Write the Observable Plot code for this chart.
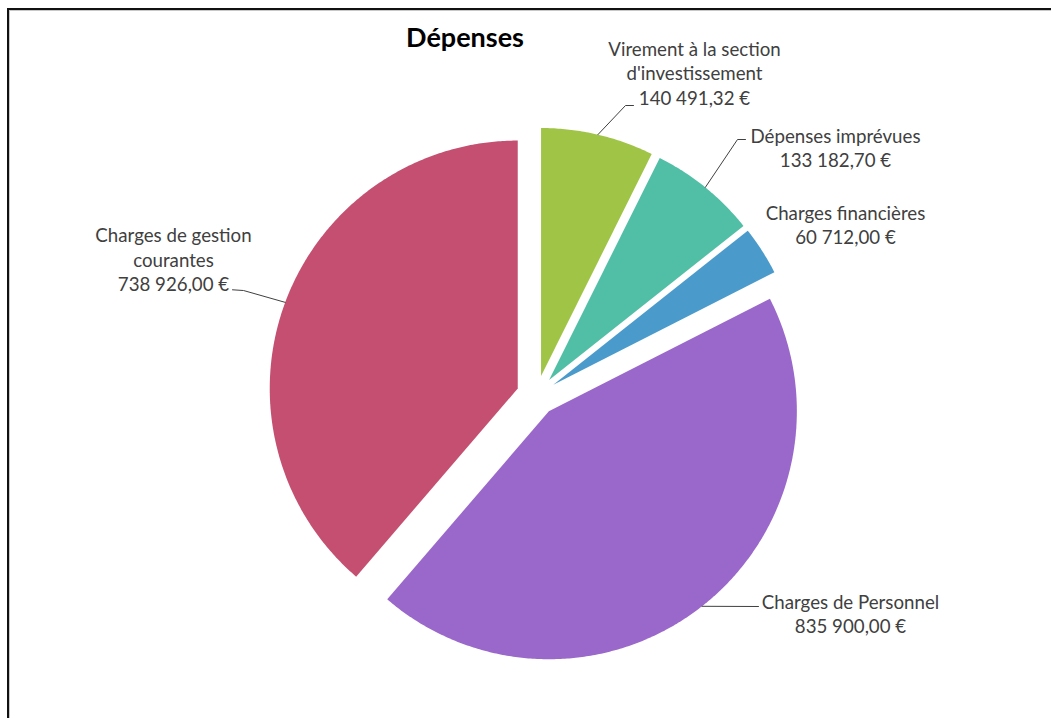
<!DOCTYPE html>
<html><head><meta charset="utf-8">
<script src="https://cdn.jsdelivr.net/npm/d3@7"></script>
<script src="https://cdn.jsdelivr.net/npm/@observablehq/plot@0.6"></script>
<style>
html,body{margin:0;padding:0;background:#fff;}
#chart{position:relative;width:1051px;height:718px;overflow:hidden;background:#fff;}
#frame{position:absolute;left:7px;top:8px;right:-10px;bottom:-10px;border-top:2.5px solid #111;border-left:2.5px solid #111;box-shadow:inset 1px 1px 0 #c8c8c8;pointer-events:none;}
#chart svg{position:absolute;left:0;top:0;}
</style></head><body><div id="chart"><div id="frame"></div></div>
<script>
// ---- data ----
const title = "Dépenses";
const categories = ["Virement à la section d'investissement", "Dépenses imprévues", "Charges financières", "Charges de Personnel", "Charges de gestion courantes"];
const values = [140491.32, 133182.70, 60712.00, 835900.00, 738926.00];
const labelLines = [["Virement à la section", "d'investissement"], ["Dépenses imprévues"], ["Charges financières"], ["Charges de Personnel"], ["Charges de gestion", "courantes"]];
const colors = ["#9FC446", "#50BFA6", "#4A9BCB", "#9A67CA", "#C44F70"];

// ---- layout (pixels) ----
const W = 1051, H = 718;
const PIE = {cx: 536, cy: 395, r: 248, explode: 20};
const labelLayout = [
  {tx: 694, ty: 72, leader: [[625, 105], [633, 105]]},
  {tx: 835, ty: 146.5, leader: [[737, 139], [745, 139]]},
  {tx: 845, ty: 223.5, leader: null},
  {tx: 850, ty: 613, leader: [[758, 606]]},
  {tx: 173, ty: 258.5, leader: [[243, 290], [232, 289.3]]}
];
const FONT = "Lato, 'Noto Sans', sans-serif";
const FS = 18.7;

const fmt = d3.formatLocale({decimal: ",", thousands: "\u00a0", grouping: [3], currency: ["", "\u00a0€"]}).format("$,.2f");

const total = d3.sum(values);
let acc = 0;
const slices = categories.map((c, i) => {
  const a0 = acc / total * 2 * Math.PI; acc += values[i];
  const a1 = acc / total * 2 * Math.PI;
  return {cat: c, i, a0, a1, mid: (a0 + a1) / 2};
});
function pt(s, r, a) {
  const ox = PIE.explode * Math.sin(s.mid), oy = -PIE.explode * Math.cos(s.mid);
  return {x: PIE.cx + ox + r * Math.sin(a), y: PIE.cy + oy - r * Math.cos(a)};
}
const polys = slices.flatMap(s => {
  const n = Math.max(2, Math.ceil((s.a1 - s.a0) / (Math.PI / 360)));
  const pts = [{...pt(s, 0, s.a0), cat: s.cat}];
  for (let k = 0; k <= n; k++) pts.push({...pt(s, PIE.r, s.a0 + (s.a1 - s.a0) * k / n), cat: s.cat});
  return pts;
});
const leaders = slices.flatMap((s, i) => {
  const L = labelLayout[i].leader;
  if (!L) return [];
  return [{...pt(s, PIE.r, s.mid), cat: s.cat}, ...L.map(([x, y]) => ({x, y, cat: s.cat}))];
});
const labels = slices.map((s, i) => ({
  x: labelLayout[i].tx, y: labelLayout[i].ty,
  text: [...labelLines[i], fmt(values[i])].join("\n")
}));

const chart = Plot.plot({
  width: W, height: H, margin: 0,
  x: {domain: [0, W], range: [0, W], axis: null},
  y: {domain: [0, H], range: [0, H], axis: null},
  color: {domain: categories, range: colors},
  style: {background: "transparent", fontFamily: FONT, overflow: "visible"},
  marks: [
    Plot.line(polys, {x: "x", y: "y", z: "cat", fill: "cat", stroke: null, curve: "linear-closed"}),
    Plot.line(leaders, {x: "x", y: "y", z: "cat", stroke: "#404040", strokeWidth: 1}),
    Plot.text(labels, {x: "x", y: "y", text: "text", fill: "#404040", fontSize: FS, lineHeight: 24.3 / FS, textAnchor: "middle", lineAnchor: "middle"}),
    Plot.text([title], {frameAnchor: "top", dx: -61, dy: 38, text: d => d, fill: "#000", fontSize: 27, fontWeight: "bold", lineAnchor: "middle"})
  ]
});
document.getElementById("chart").appendChild(chart);
</script></body></html>
